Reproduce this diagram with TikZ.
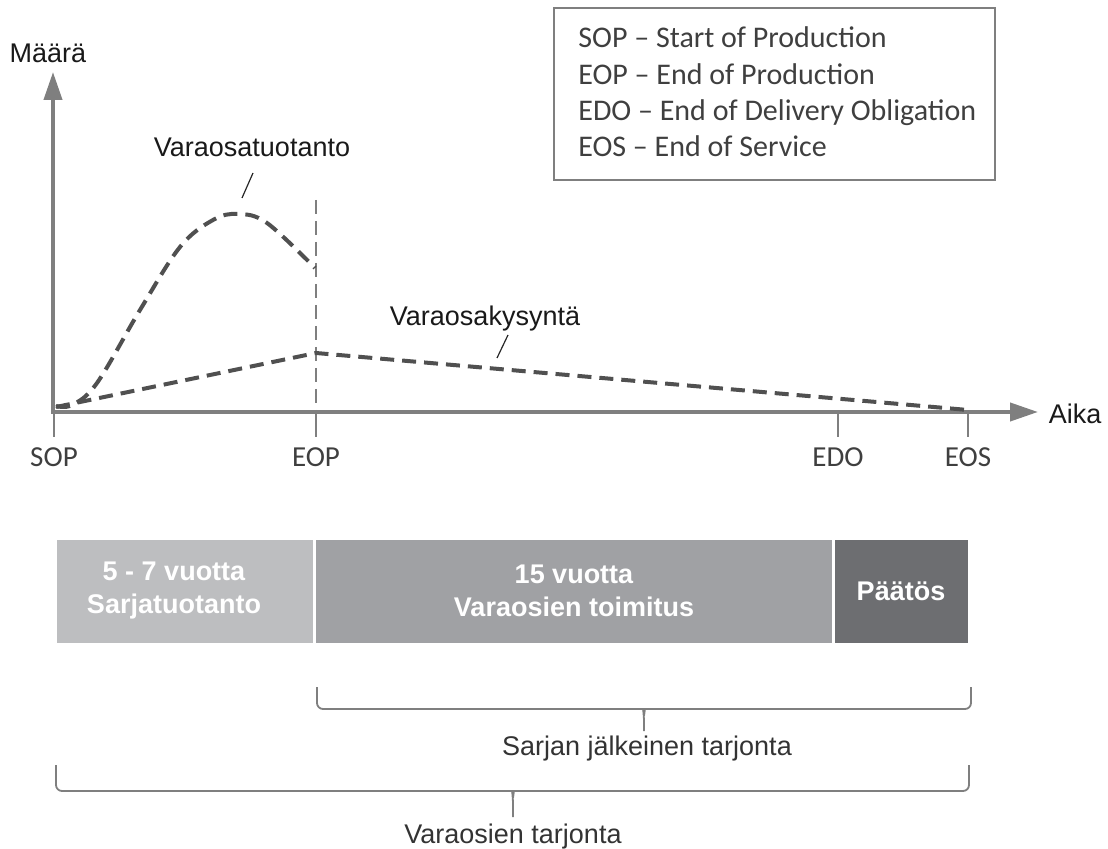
\documentclass[tikz,border=0pt]{standalone}
\usepackage{fontspec}
\setmainfont{Liberation Sans}
\newfontfamily\calibri{Carlito}
\usetikzlibrary{arrows.meta}
\definecolor{AxisGray}{HTML}{7F7F7F}
\definecolor{CurveGray}{HTML}{505050}
\definecolor{LabelGray}{HTML}{3F3F3F}
\definecolor{BarLight}{HTML}{BDBEC0}
\definecolor{BarMid}{HTML}{A0A1A4}
\definecolor{BarDark}{HTML}{6D6E71}

\begin{document}
\begin{tikzpicture}[x=0.5pt, y=-0.5pt,
    axis/.style={line width=2pt, AxisGray, -{Triangle[length=14pt,width=9pt]}},
    tick/.style={line width=1pt, AxisGray},
    curve/.style={line width=2pt, CurveGray, dash pattern=on 7pt off 4pt},
    guide/.style={line width=0.7pt, AxisGray, dash pattern=on 7pt off 3.5pt},
    leader/.style={line width=0.6pt, black!85},
    brace/.style={line width=0.9pt, AxisGray, rounded corners=3pt},
    lbl/.style={font=\fontsize{13.5}{16}\selectfont, text=black!90, anchor=base, inner sep=0pt},
    ticklbl/.style={font=\calibri\fontsize{14.5}{17}\selectfont, text=LabelGray, anchor=base, inner sep=0pt},
    legend/.style={font=\calibri\fontsize{15}{18}\selectfont, text=LabelGray, anchor=base west, inner sep=0pt},
    bar/.style={inner sep=0pt, minimum height=51.5pt},
    bartext/.style={text=white, font=\bfseries\fontsize{13.5}{16.5}\selectfont, align=center, inner sep=0pt}
  ]
    \useasboundingbox (0,0) rectangle (1108,849);

    % legend
    \node[draw=AxisGray, line width=0.7pt, minimum width=220.5pt, minimum height=86pt, inner sep=0pt] (legendbox) at (774.5,94) {};
    \node[legend] (sop) at (578,48) {SOP – Start of Production};
    \node[legend] (eop) at (578,85) {EOP – End of Production};
    \node[legend] (edo) at (578,121) {EDO – End of Delivery Obligation};
    \node[legend] (eos) at (578,157) {EOS – End of Service};

    % axes
    \coordinate (origin) at (53,412);
    \coordinate (ytip) at (53,72);
    \coordinate (xtip) at (1038,412);
    \draw[axis] ([yshift=-1pt]origin) -- (ytip);
    \draw[axis] ([xshift=-1pt]origin) -- (xtip);
    \node[lbl] (maara) at (48,63) {Määrä};
    \node[lbl] (aika) at (1075,424) {Aika};

    \foreach \x/\name in {54/SOP, 316/EOP, 838/EDO, 968/EOS} {
      \draw[tick] (\x,412) -- (\x,437);
      \node[ticklbl] (\name) at (\x,467) {\name};
    }

    % EOP guide
    \draw[guide] (316,200) -- (316,412);

    % curves
    \draw[curve] plot[smooth, tension=0.6] coordinates {(56,406) (72,405) (97,383) (140,310) (180,247) (213,220) (238,214) (267,223) (315,268)};
    \draw[curve] (56,407) -- (316,353) -- (968,410);

    % curve labels
    \node[lbl] (production) at (252,157) {Varaosatuotanto};
    \coordinate (productiontip) at (242,198);
    \draw[leader] ([xshift=0.5pt,yshift=-8pt]production.base) -- (productiontip);
    \node[lbl] (demand) at (485,326) {Varaosakysyntä};
    \coordinate (demandtip) at (497,358);
    \draw[leader] ([xshift=11.5pt,yshift=-4.5pt]demand.base) -- (demandtip);

    % phases
    \node[bar, fill=BarLight, minimum width=128pt] (serial) at (185,591.5) {};
    \node[bar, fill=BarMid, minimum width=258pt] (delivery) at (574,591.5) {};
    \node[bar, fill=BarDark, minimum width=66.5pt] (decision) at (901.5,591.5) {};
    \node[bartext] (serialtxt) at (174,591) {5 - 7 vuotta\\Sarjatuotanto};
    \node[bartext] (deliverytxt) at (574,591) {15 vuotta\\Varaosien toimitus};
    \node[bartext] (decisiontxt) at (901,591) {Päätös};

    % braces
    \coordinate (aftertip) at (644,731);
    \draw[brace] (317,687) -- (317,709) -- (638,709) .. controls (643,709) .. (644,716) -- (aftertip);
    \draw[brace] (644,716) .. controls (645,709) .. (650,709) -- (971,709) -- (971,687);
    \node[lbl, text=black!80] (after) at (647,755) {Sarjan jälkeinen tarjonta};

    \coordinate (totaltip) at (513,817);
    \draw[brace] (56,765) -- (56,791) -- (507,791) .. controls (512,791) .. (513,798) -- (totaltip);
    \draw[brace] (513,798) .. controls (514,791) .. (519,791) -- (969,791) -- (969,765);
    \node[lbl, text=black!80] (total) at (513,843) {Varaosien tarjonta};
  \end{tikzpicture}
\end{document}
